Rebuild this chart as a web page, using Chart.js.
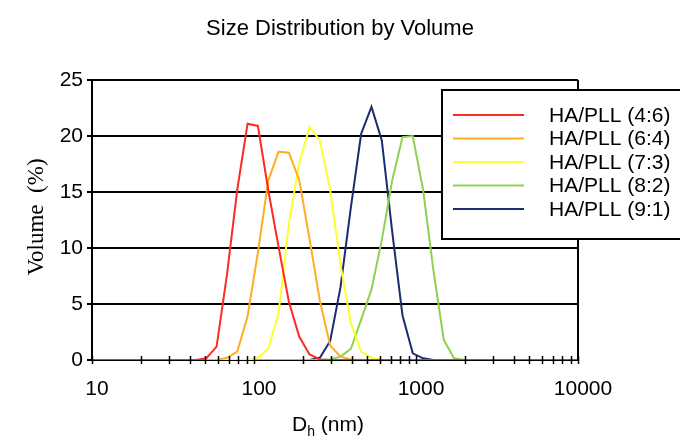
<!DOCTYPE html>
<html>
<head>
<meta charset="utf-8">
<script src="https://cdn.jsdelivr.net/npm/chart.js@4.4.1/dist/chart.umd.min.js"></script>
<style>
  html, body { margin: 0; padding: 0; background: #fff; }
</style>
</head>
<body>
<canvas id="sizeChart" width="680" height="438"></canvas>
<script>
// hydrodynamic diameter bins (nm)
const sizeBins = [10.1, 11.7, 13.54, 15.69, 18.17, 21.04, 24.36, 28.21, 32.67, 37.84,
  43.82, 50.75, 58.77, 68.06, 78.82, 91.28, 105.7, 122.4, 141.8, 164.2,
  190.1, 220.2, 255.0, 295.3, 342.0, 396.1, 458.7, 531.2, 615.1, 712.4,
  825.0, 955.4, 1106, 1281, 1484, 1718, 1990, 2305, 2669, 3091,
  3580, 4145, 4801, 5560, 6439, 7456, 8635, 10000];

// volume (%) per bin
const vol46 = [0, 0, 0, 0, 0, 0, 0, 0, 0, 0,
  0, 0.15, 1.2, 7.6, 15.2, 21.1, 20.9, 15.2, 10.1, 5.2,
  2.1, 0.5, 0.05, 0, 0, 0, 0, 0, 0, 0,
  0, 0, 0, 0, 0, 0, 0, 0, 0, 0,
  0, 0, 0, 0, 0, 0, 0, 0];
const vol64 = [0, 0, 0, 0, 0, 0, 0, 0, 0, 0,
  0, 0, 0, 0.2, 0.75, 3.9, 9.6, 16.0, 18.6, 18.5,
  16.1, 10.8, 5.3, 1.3, 0.3, 0.05, 0, 0, 0, 0,
  0, 0, 0, 0, 0, 0, 0, 0, 0, 0,
  0, 0, 0, 0, 0, 0, 0, 0];
const vol73 = [0, 0, 0, 0, 0, 0, 0, 0, 0, 0,
  0, 0, 0, 0, 0, 0, 0.2, 1.0, 4.2, 12.2,
  17.6, 20.8, 19.6, 15.2, 8.5, 3.3, 0.75, 0.2, 0, 0,
  0, 0, 0, 0, 0, 0, 0, 0, 0, 0,
  0, 0, 0, 0, 0, 0, 0, 0];
const vol82 = [0, 0, 0, 0, 0, 0, 0, 0, 0, 0,
  0, 0, 0, 0, 0, 0, 0, 0, 0, 0,
  0, 0, 0, 0.05, 0.3, 1.0, 3.6, 6.3, 10.7, 16.0,
  19.9, 20.0, 15.2, 8.0, 1.8, 0.15, 0, 0, 0, 0,
  0, 0, 0, 0, 0, 0, 0, 0];
const vol91 = [0, 0, 0, 0, 0, 0, 0, 0, 0, 0,
  0, 0, 0, 0, 0, 0, 0, 0, 0, 0,
  0, 0, 0.2, 1.7, 6.5, 13.6, 20.2, 22.6, 19.6, 11.5,
  4.0, 0.6, 0.15, 0, 0, 0, 0, 0, 0, 0,
  0, 0, 0, 0, 0, 0, 0, 0];

const seriesLabels = ['HA/PLL (4:6)', 'HA/PLL (6:4)', 'HA/PLL (7:3)', 'HA/PLL (8:2)', 'HA/PLL (9:1)'];
const seriesValues = [vol46, vol64, vol73, vol82, vol91];
const seriesColors = ['#ff2a22', '#ffae22', '#ffff30', '#8fd24f', '#1c2c6c'];

const xTickValues = [10, 20, 30, 40, 50, 60, 70, 80, 90,
  100, 200, 300, 400, 500, 600, 700, 800, 900,
  1000, 2000, 3000, 4000, 5000, 6000, 7000, 8000, 9000, 10000];
const xLabelValues = [10, 100, 1000, 10000];

const chartTitle = 'Size Distribution by Volume';
const yTitle = 'Volume  (%)';

const SANS = '"Liberation Sans", Arial, sans-serif';
const SERIF = '"Liberation Serif", "Times New Roman", serif';

// titles, crossing x ticks, plot frame and boxed legend
const decorPlugin = {
  id: 'decor',
  afterDatasetsDraw(chart) {
    const { ctx, chartArea, scales } = chart;
    const xs = scales.x;
    ctx.save();
    ctx.strokeStyle = '#000';
    ctx.lineWidth = 1.5;
    xs.ticks.forEach(t => {
      const px = Math.round(xs.getPixelForValue(t.value)) + 0.5;
      ctx.beginPath();
      ctx.moveTo(px, chartArea.bottom - 4);
      ctx.lineTo(px, chartArea.bottom + 4);
      ctx.stroke();
    });
    // right frame
    ctx.lineWidth = 2;
    ctx.beginPath();
    ctx.moveTo(chartArea.right, chartArea.top);
    ctx.lineTo(chartArea.right, chartArea.bottom + 1);
    ctx.stroke();
    ctx.restore();
  },
  afterDraw(chart) {
    const { ctx, chartArea } = chart;
    ctx.save();
    ctx.fillStyle = '#000';

    // chart title
    ctx.font = '22px ' + SANS;
    ctx.textAlign = 'center';
    ctx.textBaseline = 'middle';
    ctx.fillText(chartTitle, 340, 29);

    // y title (rotated, serif)
    ctx.save();
    ctx.translate(37, 217);
    ctx.rotate(-Math.PI / 2);
    ctx.font = '23px ' + SERIF;
    ctx.fillText(yTitle, 0, 0);
    ctx.restore();

    // x title with subscript h
    ctx.textAlign = 'left';
    ctx.textBaseline = 'alphabetic';
    ctx.font = '21px ' + SANS;
    const dW = ctx.measureText('D').width;
    ctx.font = '14px ' + SANS;
    const hW = ctx.measureText('h').width;
    ctx.font = '21px ' + SANS;
    const restW = ctx.measureText(' (nm)').width;
    let x0 = 328 - (dW + hW + restW) / 2;
    ctx.fillText('D', x0, 431);
    ctx.font = '14px ' + SANS;
    ctx.fillText('h', x0 + dW, 436);
    ctx.font = '21px ' + SANS;
    ctx.fillText(' (nm)', x0 + dW + hW, 431);

    // legend box
    const bx = 442, by = 90, bw = 250, bh = 149;
    ctx.fillStyle = '#fff';
    ctx.fillRect(bx, by, bw, bh);
    ctx.strokeStyle = '#000';
    ctx.lineWidth = 2;
    ctx.strokeRect(bx, by, bw, bh);
    ctx.font = '21px ' + SANS;
    ctx.textBaseline = 'middle';
    chart.data.datasets.forEach((ds, i) => {
      const y = 115 + i * 23.5;
      ctx.strokeStyle = ds.borderColor;
      ctx.lineWidth = 2;
      ctx.beginPath();
      ctx.moveTo(453, y);
      ctx.lineTo(524, y);
      ctx.stroke();
      ctx.fillStyle = '#000';
      ctx.fillText(ds.label, 549, y + 1);
    });
    ctx.restore();
  }
};

new Chart(document.getElementById('sizeChart'), {
  type: 'line',
  data: {
    datasets: seriesLabels.map((label, i) => ({
      label: label,
      data: sizeBins.map((d, j) => ({ x: d, y: seriesValues[i][j] })),
      borderColor: seriesColors[i],
      backgroundColor: seriesColors[i],
      borderWidth: 2,
      pointRadius: 0,
      tension: 0,
      fill: false
    }))
  },
  options: {
    responsive: false,
    animation: false,
    events: [],
    layout: { padding: { top: 80, right: 102, left: 0, bottom: 0 } },
    plugins: {
      legend: { display: false },
      title: { display: false },
      tooltip: { enabled: false }
    },
    scales: {
      x: {
        type: 'logarithmic',
        min: 10,
        max: 10000,
        afterBuildTicks: scale => {
          scale.ticks = xTickValues.map(v => ({ value: v }));
        },
        afterFit: scale => { scale.height = 78; },
        ticks: {
          autoSkip: false,
          maxRotation: 0,
          padding: 17,
          labelOffset: 5,
          color: '#000',
          font: { family: SANS, size: 21 },
          callback: value => (xLabelValues.includes(value) ? String(value) : '')
        },
        grid: { display: false, drawTicks: false },
        border: { display: true, color: '#000', width: 2 }
      },
      y: {
        min: 0,
        max: 25,
        afterFit: scale => { scale.width = 92; },
        ticks: {
          stepSize: 5,
          padding: 4,
          color: '#000',
          font: { family: SANS, size: 21 }
        },
        grid: { color: '#000', lineWidth: 2, tickLength: 5, drawTicks: true },
        border: { display: true, color: '#000', width: 2 }
      }
    }
  },
  plugins: [decorPlugin]
});
</script>
</body>
</html>
